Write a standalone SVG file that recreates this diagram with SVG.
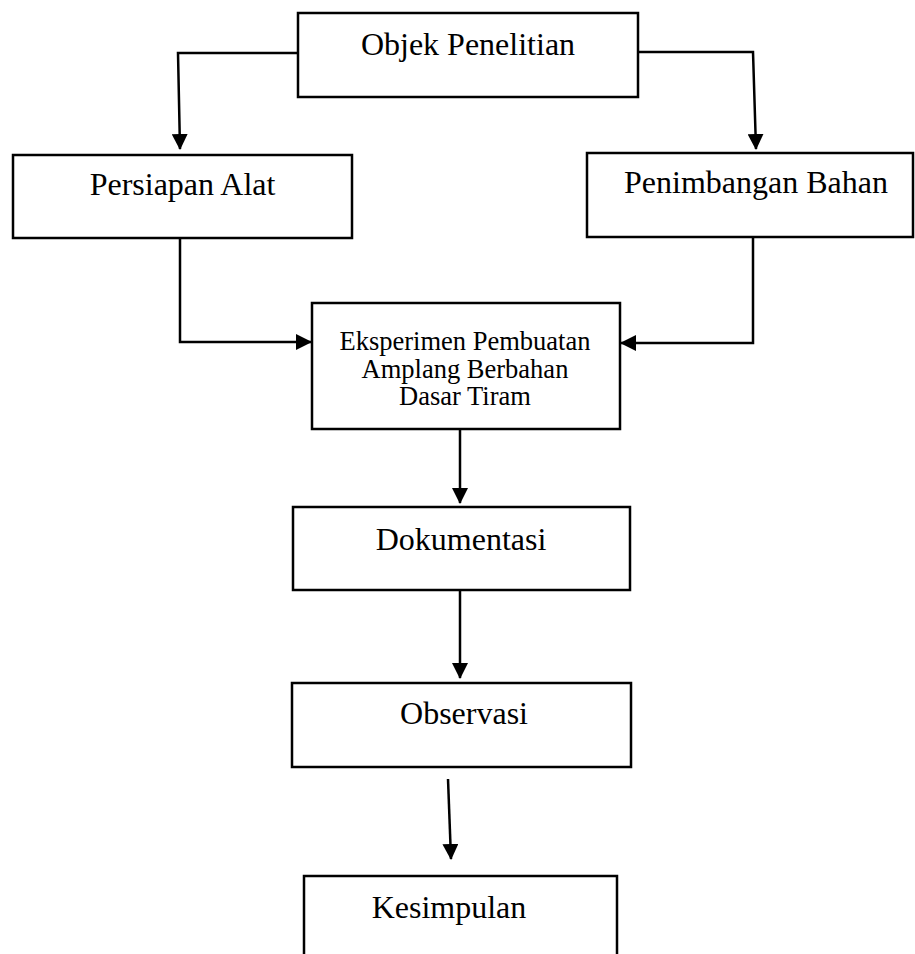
<svg xmlns="http://www.w3.org/2000/svg" width="915" height="954" viewBox="0 0 915 954">
<style>
.box{fill:#fff;stroke:#000;stroke-width:2.5}
.lbl{font-family:"Liberation Serif","Times New Roman",serif;font-size:32px;fill:#000;text-anchor:middle}
.sm{font-size:26.5px}
.conn{fill:none;stroke:#000;stroke-width:2.5;marker-end:url(#arr)}
</style>
<defs>
<marker id="arr" viewBox="0 0 16 16" refX="15" refY="8" markerWidth="16" markerHeight="16" markerUnits="userSpaceOnUse" orient="auto">
<path d="M0,0 L16,8 L0,16 z" fill="#000"/>
</marker>
</defs>
<rect width="915" height="954" fill="#fff"/>
<g id="connectors">
<path class="conn" d="M298,53 L178,53 L180,149"/>
<path class="conn" d="M638,52 L753,52 L756,149"/>
<path class="conn" d="M180,238 L180,342 L311,342"/>
<path class="conn" d="M753,237 L753,343 L621,343"/>
<path class="conn" d="M460,429 L460,503"/>
<path class="conn" d="M460,590 L460,678"/>
<path class="conn" d="M448,779 L451,859"/>
</g>
<g id="objek">
<rect class="box" x="298" y="13" width="340" height="84"/>
<text class="lbl" x="468" y="55">Objek Penelitian</text>
</g>
<g id="persiapan">
<rect class="box" x="13" y="155" width="339" height="83"/>
<text class="lbl" x="182.5" y="195">Persiapan Alat</text>
</g>
<g id="penimbangan">
<rect class="box" x="587" y="153" width="326" height="84"/>
<text class="lbl" x="756" y="193">Penimbangan Bahan</text>
</g>
<g id="eksperimen">
<rect class="box" x="312" y="303" width="308" height="126"/>
<text class="lbl sm" x="465" y="350">Eksperimen Pembuatan</text>
<text class="lbl sm" x="465" y="377.5">Amplang Berbahan</text>
<text class="lbl sm" x="465" y="405">Dasar Tiram</text>
</g>
<g id="dokumentasi">
<rect class="box" x="293" y="507" width="337" height="83"/>
<text class="lbl" x="461" y="550">Dokumentasi</text>
</g>
<g id="observasi">
<rect class="box" x="292" y="683" width="339" height="84"/>
<text class="lbl" x="464" y="724">Observasi</text>
</g>
<g id="kesimpulan">
<rect class="box" x="304" y="876" width="313" height="100"/>
<text class="lbl" x="449" y="918">Kesimpulan</text>
</g>
</svg>
